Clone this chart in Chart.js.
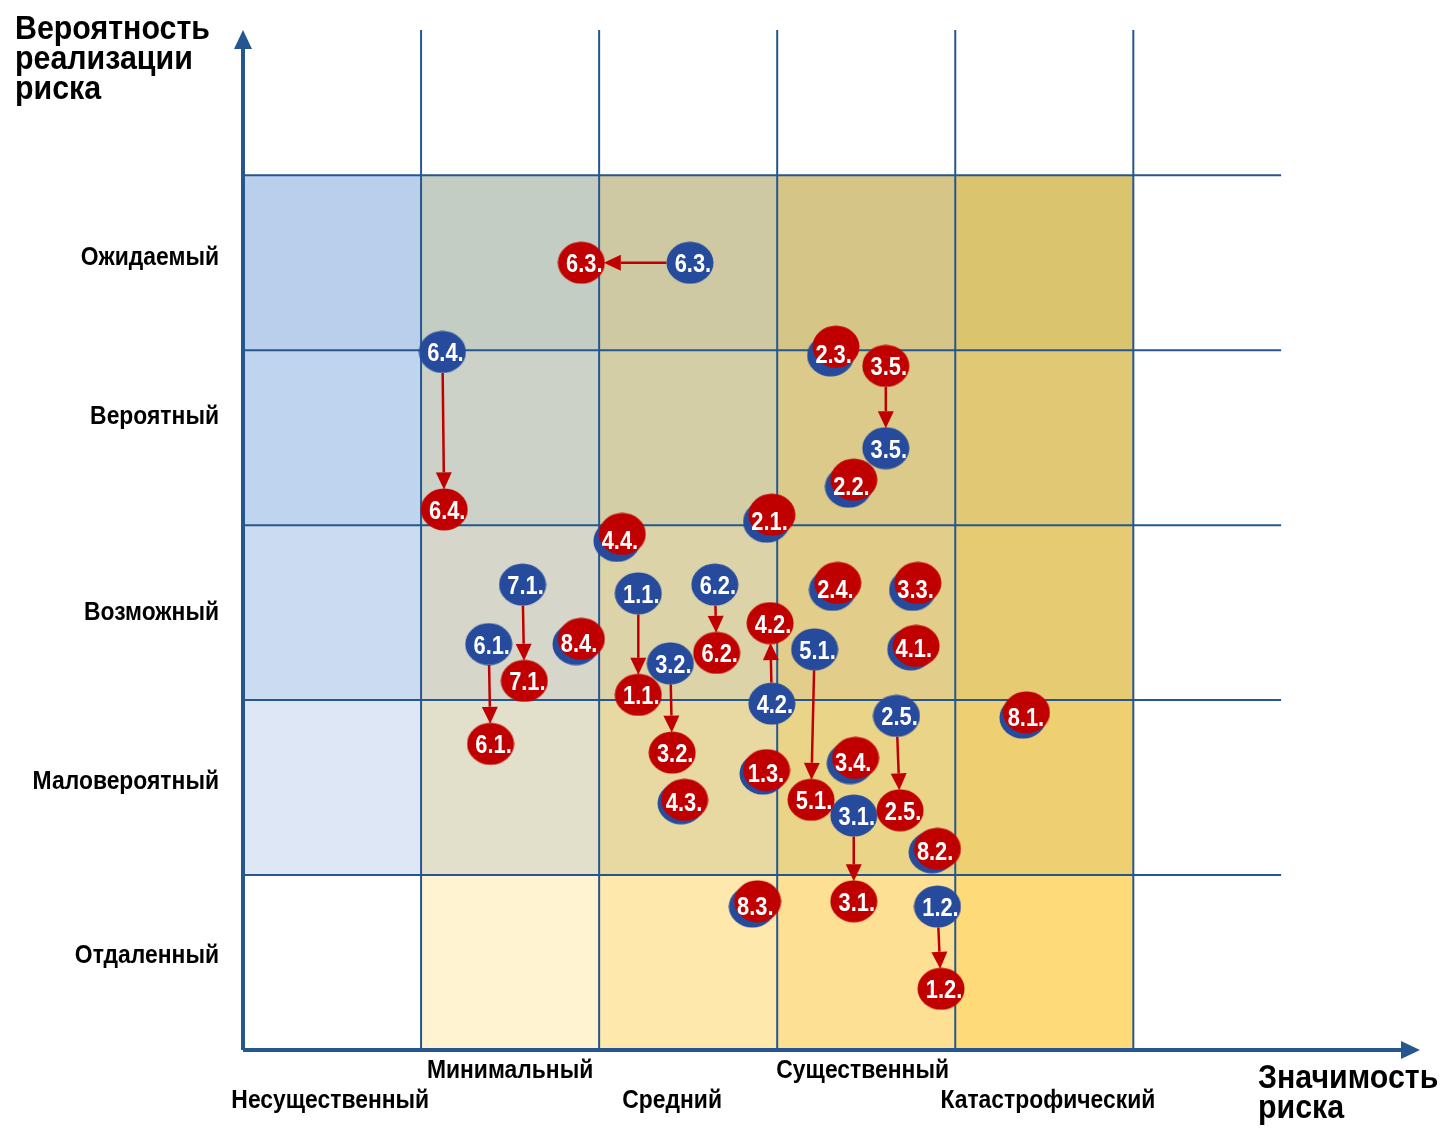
<!DOCTYPE html>
<html>
<head>
<meta charset="utf-8">
<script src="https://cdn.jsdelivr.net/npm/chart.js@4.4.0/dist/chart.umd.min.js"></script>
<style>
    html, body { margin: 0; background: #fff; }
    #wrap { width: 1445px; height: 1128px; position: relative; }
</style>
</head>
<body>
<div id="wrap"><canvas id="risk_chart"></canvas></div>
<script>
// axis categories and where their captions sit (in scale units)
const impactLabels = ['Несущественный', 'Минимальный', 'Средний', 'Существенный', 'Катастрофический'];
const impactTicks = [0.49, 1.50, 2.41, 3.48, 4.52];
const probLabels = ['Отдаленный', 'Маловероятный', 'Возможный', 'Вероятный', 'Ожидаемый'];
const probTicks = [0.54, 1.53, 2.50, 3.62, 4.53];

// risks: blue = first assessment, red = second assessment
const riskIds = ['6.3.', '6.4.', '2.3.', '3.5.', '2.2.', '2.1.', '4.4.', '7.1.', '1.1.', '6.2.', '2.4.', '3.3.', '6.1.', '8.4.',
    '3.2.', '5.1.', '4.1.', '4.2.', '2.5.', '8.1.', '1.3.', '3.4.', '4.3.', '3.1.', '8.2.', '8.3.', '1.2.'];
const blueX = [2.51, 1.12, 3.30, 3.61, 3.40, 2.94, 2.10, 1.57, 2.22, 2.65, 3.31, 3.76, 1.38, 1.87,
    2.40, 3.21, 3.75, 2.97, 3.67, 4.38, 2.92, 3.41, 2.46, 3.43, 3.87, 2.86, 3.90];
const blueY = [4.50, 3.99, 3.97, 3.44, 3.22, 3.02, 2.91, 2.66, 2.61, 2.66, 2.63, 2.63, 2.32, 2.32,
    2.21, 2.29, 2.29, 1.98, 1.91, 1.90, 1.58, 1.64, 1.41, 1.34, 1.13, 0.82, 0.82];
const redX = [1.90, 1.13, 3.33, 3.61, 3.43, 2.97, 2.13, 1.58, 2.22, 2.66, 3.34, 3.79, 1.39, 1.90,
    2.41, 3.19, 3.78, 2.96, 3.69, 4.40, 2.94, 3.44, 2.48, 3.43, 3.90, 2.89, 3.92];
const redY = [4.50, 3.09, 4.02, 3.91, 3.26, 3.06, 2.95, 2.11, 2.03, 2.27, 2.67, 2.67, 1.75, 2.35,
    1.70, 1.43, 2.31, 2.44, 1.37, 1.93, 1.60, 1.67, 1.43, 0.85, 1.15, 0.85, 0.35];
const movedIds = ['6.3.', '6.4.', '3.5.', '7.1.', '1.1.', '6.2.', '6.1.', '3.2.', '5.1.', '4.2.', '2.5.', '3.1.', '1.2.'];
const reversedIds = ['3.5.'];

const style = {
    blue: '#274b9c',
    red: '#c00000',
    grid: '#25578e',
    text: '#000',
    font: '"Liberation Sans", Arial, sans-serif',
    // cell colours, bottom row first, left column first
    cells: [
        ['#ffffff', '#fff3d2', '#fee8ac', '#fde093', '#fedb78'],
        ['#dde7f6', '#e2dfcb', '#e8d9a3', '#ead487', '#eed073'],
        ['#cbdbf1', '#d6d7ca', '#dcd3a8', '#e2ce8a', '#e6cb73'],
        ['#bfd4ee', '#ccd2c8', '#d4cea6', '#dbca8a', '#e0c874'],
        ['#b9cfeb', '#c4cdc3', '#cec9a2', '#d5c587', '#dbc46e'],
    ],
    rx: 23.5,
    ry: 21,
};

function bubble(color) {
    const c = document.createElement('canvas');
    c.width = 48;
    c.height = 43;
    const g = c.getContext('2d');
    g.fillStyle = color;
    g.beginPath();
    g.ellipse(24, 21.5, style.rx, style.ry, 0, 0, Math.PI * 2);
    g.fill();
    return c;
}

const toPoints = (xs, ys) => xs.map((x, i) => ({ x: x, y: ys[i] }));

// narrow bold text: regular bold font squeezed horizontally
function narrowText(ctx, text, x, y, size, squeeze, align) {
    ctx.save();
    ctx.font = 'bold ' + size + 'px ' + style.font;
    ctx.textAlign = align;
    ctx.translate(x, y);
    ctx.scale(squeeze, 1);
    ctx.fillText(text, 0, 0);
    ctx.restore();
}

function edgeDist(dx, dy) {
    return 1 / Math.sqrt((dx / style.rx) ** 2 + (dy / style.ry) ** 2);
}

function drawArrow(ctx, ax, ay, bx, by) {
    const len = Math.hypot(bx - ax, by - ay);
    const dx = (bx - ax) / len, dy = (by - ay) / len;
    const r = edgeDist(dx, dy);
    const sx = ax + dx * r, sy = ay + dy * r;
    const tx = bx - dx * (r - 1), ty = by - dy * (r - 1);
    const head = 17, half = 8;
    ctx.strokeStyle = style.red;
    ctx.fillStyle = style.red;
    ctx.lineWidth = 2.5;
    ctx.beginPath();
    ctx.moveTo(sx, sy);
    ctx.lineTo(tx - dx * head, ty - dy * head);
    ctx.stroke();
    ctx.beginPath();
    ctx.moveTo(tx, ty);
    ctx.lineTo(tx - dx * head - dy * half, ty - dy * head + dx * half);
    ctx.lineTo(tx - dx * head + dy * half, ty - dy * head - dx * half);
    ctx.closePath();
    ctx.fill();
}

const matrixPlugin = {
    id: 'matrix',
    beforeDatasetsDraw(chart) {
        const ctx = chart.ctx;
        const xs = chart.scales.x, ys = chart.scales.y;
        const px = v => xs.getPixelForValue(v);
        const py = v => ys.getPixelForValue(v);
        ctx.save();

        // coloured cells
        style.cells.forEach((row, r) => {
            row.forEach((color, c) => {
                ctx.fillStyle = color;
                ctx.fillRect(px(c), py(r + 1), px(c + 1) - px(c), py(r) - py(r + 1));
            });
        });

        // grid lines
        ctx.strokeStyle = style.grid;
        ctx.lineWidth = 2;
        for (let i = 1; i <= 5; i++) {
            ctx.beginPath();
            ctx.moveTo(px(0), py(i));
            ctx.lineTo(px(5.83), py(i));
            ctx.stroke();
            ctx.beginPath();
            ctx.moveTo(px(i), py(0));
            ctx.lineTo(px(i), py(ys.max));
            ctx.stroke();
        }

        // axes with arrow heads
        ctx.lineWidth = 4;
        ctx.fillStyle = style.grid;
        ctx.beginPath();
        ctx.moveTo(px(0), py(0));
        ctx.lineTo(px(0), py(ys.max) + 16);
        ctx.moveTo(px(0), py(0));
        ctx.lineTo(xs.right - 16, py(0));
        ctx.stroke();
        ctx.beginPath();
        ctx.moveTo(px(0), py(ys.max));
        ctx.lineTo(px(0) - 9, py(ys.max) + 19);
        ctx.lineTo(px(0) + 9, py(ys.max) + 19);
        ctx.closePath();
        ctx.fill();
        ctx.beginPath();
        ctx.moveTo(xs.right, py(0));
        ctx.lineTo(xs.right - 19, py(0) - 9);
        ctx.lineTo(xs.right - 19, py(0) + 9);
        ctx.closePath();
        ctx.fill();

        // movement arrows
        riskIds.forEach((id, i) => {
            if (!movedIds.includes(id)) return;
            let a = [px(blueX[i]), py(blueY[i])], b = [px(redX[i]), py(redY[i])];
            if (reversedIds.includes(id)) [a, b] = [b, a];
            drawArrow(ctx, a[0], a[1], b[0], b[1]);
        });

        // captions
        ctx.fillStyle = style.text;
        ctx.textBaseline = 'middle';
        probLabels.forEach((t, i) => narrowText(ctx, t, 219, py(probTicks[i]), 26, 0.88, 'right'));
        impactLabels.forEach((t, i) => narrowText(ctx, t, px(impactTicks[i]), i % 2 ? 1071 : 1101, 26, 0.88, 'center'));

        ctx.textBaseline = 'alphabetic';
        ['Вероятность', 'реализации', 'риска'].forEach((t, i) => narrowText(ctx, t, 15, 39 + i * 30, 33, 0.92, 'left'));
        ['Значимость', 'риска'].forEach((t, i) => narrowText(ctx, t, 1258, 1088 + i * 30, 33, 0.92, 'left'));
        ctx.restore();
    },
    afterDatasetsDraw(chart) {
        const ctx = chart.ctx;
        const xs = chart.scales.x, ys = chart.scales.y;
        ctx.save();
        ctx.fillStyle = '#fff';
        ctx.textBaseline = 'alphabetic';
        riskIds.forEach((id, i) => {
            const bx = xs.getPixelForValue(blueX[i]), by = ys.getPixelForValue(blueY[i]);
            if (movedIds.includes(id)) {
                const rx = xs.getPixelForValue(redX[i]), ry = ys.getPixelForValue(redY[i]);
                narrowText(ctx, id, bx + 3, by + 9.5, 26, 0.84, 'center');
                narrowText(ctx, id, rx + 3, ry + 9.5, 26, 0.84, 'center');
            } else {
                narrowText(ctx, id, bx + 3, by + 8, 26, 0.84, 'center');
            }
        });
        ctx.restore();
    }
};

new Chart(document.getElementById('risk_chart'), {
    type: 'scatter',
    data: {
        datasets: [{
            label: 'Первичная оценка',
            data: toPoints(blueX, blueY),
            pointStyle: bubble(style.blue),
            order: 2,
        }, {
            label: 'Повторная оценка',
            data: toPoints(redX, redY),
            pointStyle: bubble(style.red),
            order: 1,
        }]
    },
    options: {
        responsive: true,
        maintainAspectRatio: false,
        animation: false,
        layout: {
            padding: { left: 243, right: 25, top: 30, bottom: 78 }
        },
        scales: {
            x: { type: 'linear', min: 0, max: 6.61, display: false },
            y: { type: 'linear', min: 0, max: 5.83, display: false }
        },
        plugins: {
            legend: { display: false },
            tooltip: { enabled: false }
        },
        clip: false
    },
    plugins: [matrixPlugin]
});
</script>
</body>
</html>
